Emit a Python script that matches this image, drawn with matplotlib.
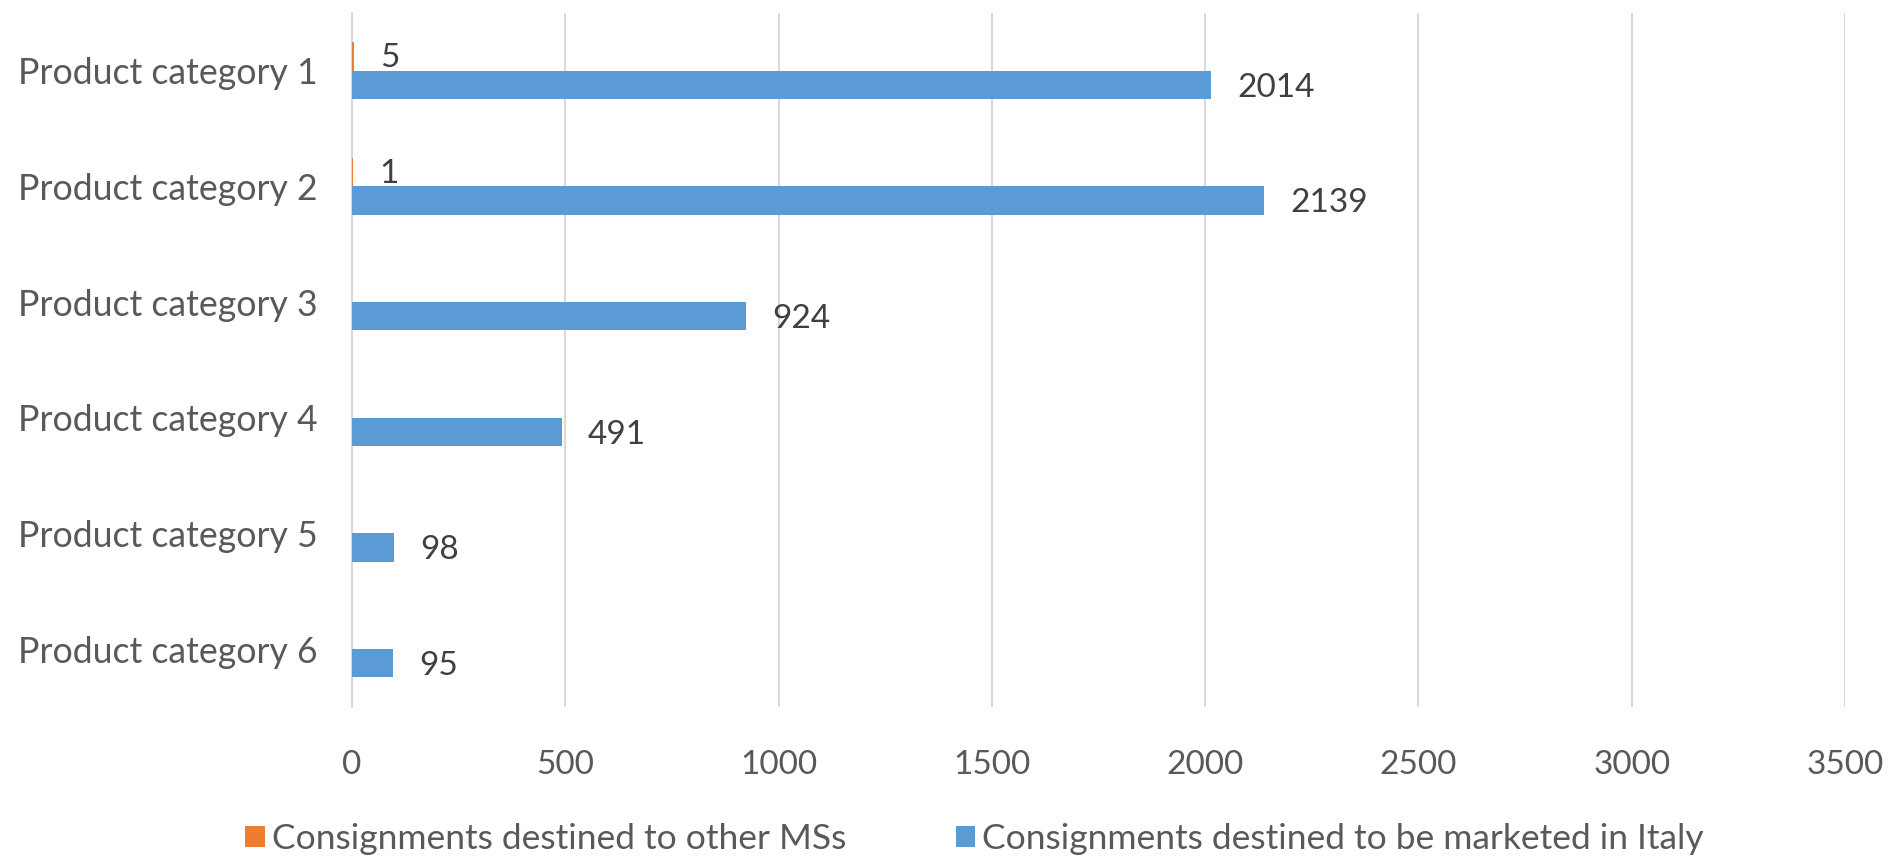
import matplotlib
matplotlib.use("Agg")
import matplotlib.pyplot as plt
import numpy as np

plt.rcParams['font.family'] = ['Lato', 'DejaVu Sans']

# data
categories = ["Product category 1", "Product category 2", "Product category 3",
              "Product category 4", "Product category 5", "Product category 6"]
other_ms = [5, 1, 0, 0, 0, 0]
italy = [2014, 2139, 924, 491, 98, 95]
x_ticks = [0, 500, 1000, 1500, 2000, 2500, 3000, 3500]

blue = "#5B9BD5"
orange = "#ED7D31"
text_col = "#595959"

fig = plt.figure(figsize=(18.96, 8.63), dpi=100)
ax = fig.add_axes([0.1857, 0.1808, 0.7874, 0.8042])

y = np.arange(len(categories))
h = 0.245
b1 = ax.barh(y - h / 2, other_ms, height=h, color=orange,
             label="Consignments destined to other MSs", zorder=3)
b2 = ax.barh(y + h / 2, italy, height=h, color=blue,
             label="Consignments destined to be marketed in Italy", zorder=3)

# data labels (only non-zero values are labelled)
for rect, v in zip(b1, other_ms):
    if v:
        ax.annotate(str(v), (rect.get_width(), rect.get_y() + rect.get_height() / 2),
                    xytext=(19, -1), textcoords="offset points", va="center",
                    fontsize=24, color="#404040")
for rect, v in zip(b2, italy):
    ax.annotate(str(v), (rect.get_width(), rect.get_y() + rect.get_height() / 2),
                xytext=(19, -2), textcoords="offset points", va="center",
                fontsize=24, color="#404040")

ax.set_xlim(0, 3500)
ax.set_ylim(len(categories) - 0.5, -0.5)
ax.set_xticks(x_ticks)
ax.set_yticks(y)
ax.set_yticklabels(categories)
ax.grid(axis="x", color="#D9D9D9", linewidth=1.5, zorder=0)
ax.set_axisbelow(True)

for s in ["top", "right", "bottom"]:
    ax.spines[s].set_visible(False)
ax.spines["left"].set_color("#D9D9D9")
ax.spines["left"].set_linewidth(1.5)

ax.tick_params(axis="x", length=0, pad=31, labelsize=24, labelcolor=text_col)
ax.tick_params(axis="y", length=0, pad=25, labelsize=25.7, labelcolor=text_col)

fig.legend(loc="center", bbox_to_anchor=(0.514, 0.028), ncol=2, frameon=False,
           fontsize=25.5, labelcolor=text_col, handlelength=0.55, handleheight=0.55,
           handletextpad=0.2, columnspacing=3.1)

fig.savefig("out.png", dpi=100)
